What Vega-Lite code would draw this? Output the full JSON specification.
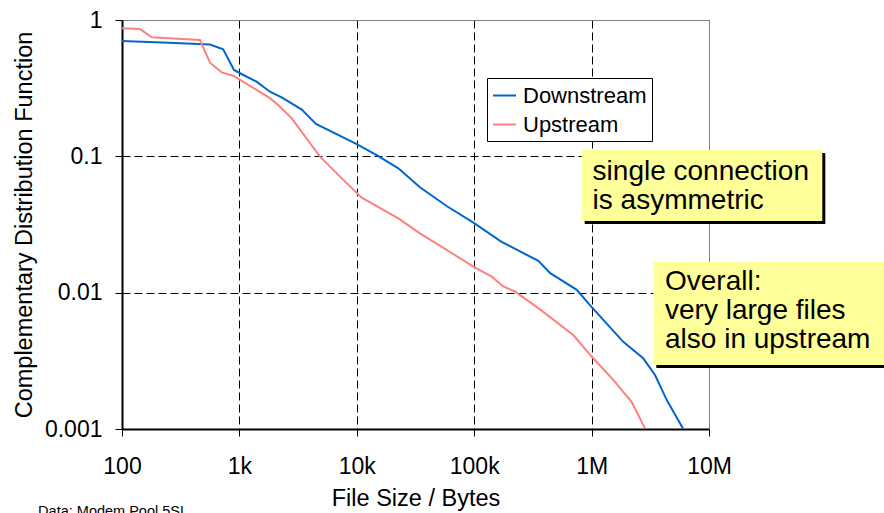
{
  "$schema": "https://vega.github.io/schema/vega-lite/v6.json",
  "width": 587,
  "height": 409,
  "autosize": {"type": "none"},
  "padding": {"left": 122, "top": 20, "right": 175, "bottom": 84},
  "background": "white",
  "config": {
    "font": "Liberation Sans",
    "view": {"stroke": "#808080", "strokeWidth": 1}
  },
  "datasets": {
    "curves": [
      {"size": 100, "ccdf": 0.70, "direction": "Downstream"},
      {"size": 250, "ccdf": 0.68, "direction": "Downstream"},
      {"size": 562, "ccdf": 0.66, "direction": "Downstream"},
      {"size": 727, "ccdf": 0.61, "direction": "Downstream"},
      {"size": 900, "ccdf": 0.43, "direction": "Downstream"},
      {"size": 1050, "ccdf": 0.40, "direction": "Downstream"},
      {"size": 1400, "ccdf": 0.353, "direction": "Downstream"},
      {"size": 1820, "ccdf": 0.298, "direction": "Downstream"},
      {"size": 2290, "ccdf": 0.271, "direction": "Downstream"},
      {"size": 3400, "ccdf": 0.220, "direction": "Downstream"},
      {"size": 4490, "ccdf": 0.173, "direction": "Downstream"},
      {"size": 9980, "ccdf": 0.123, "direction": "Downstream"},
      {"size": 14760, "ccdf": 0.102, "direction": "Downstream"},
      {"size": 22600, "ccdf": 0.0817, "direction": "Downstream"},
      {"size": 34500, "ccdf": 0.0593, "direction": "Downstream"},
      {"size": 58200, "ccdf": 0.0432, "direction": "Downstream"},
      {"size": 98400, "ccdf": 0.0326, "direction": "Downstream"},
      {"size": 171000, "ccdf": 0.0236, "direction": "Downstream"},
      {"size": 352000, "ccdf": 0.0171, "direction": "Downstream"},
      {"size": 444000, "ccdf": 0.0139, "direction": "Downstream"},
      {"size": 748000, "ccdf": 0.0105, "direction": "Downstream"},
      {"size": 968000, "ccdf": 0.0081, "direction": "Downstream"},
      {"size": 1860000, "ccdf": 0.00436, "direction": "Downstream"},
      {"size": 2750000, "ccdf": 0.0033, "direction": "Downstream"},
      {"size": 3470000, "ccdf": 0.00249, "direction": "Downstream"},
      {"size": 4370000, "ccdf": 0.00163, "direction": "Downstream"},
      {"size": 6000000, "ccdf": 0.00101, "direction": "Downstream"},
      {"size": 100, "ccdf": 0.869, "direction": "Upstream"},
      {"size": 142, "ccdf": 0.86, "direction": "Upstream"},
      {"size": 179, "ccdf": 0.747, "direction": "Upstream"},
      {"size": 461, "ccdf": 0.713, "direction": "Upstream"},
      {"size": 562, "ccdf": 0.486, "direction": "Upstream"},
      {"size": 706, "ccdf": 0.413, "direction": "Upstream"},
      {"size": 887, "ccdf": 0.39, "direction": "Upstream"},
      {"size": 1400, "ccdf": 0.307, "direction": "Upstream"},
      {"size": 1820, "ccdf": 0.267, "direction": "Upstream"},
      {"size": 2220, "ccdf": 0.231, "direction": "Upstream"},
      {"size": 2790, "ccdf": 0.19, "direction": "Upstream"},
      {"size": 4860, "ccdf": 0.0994, "direction": "Upstream"},
      {"size": 7200, "ccdf": 0.071, "direction": "Upstream"},
      {"size": 11000, "ccdf": 0.0497, "direction": "Upstream"},
      {"size": 22600, "ccdf": 0.0351, "direction": "Upstream"},
      {"size": 34500, "ccdf": 0.0272, "direction": "Upstream"},
      {"size": 58200, "ccdf": 0.0206, "direction": "Upstream"},
      {"size": 98400, "ccdf": 0.0155, "direction": "Upstream"},
      {"size": 141000, "ccdf": 0.0131, "direction": "Upstream"},
      {"size": 177000, "ccdf": 0.0111, "direction": "Upstream"},
      {"size": 222000, "ccdf": 0.0102, "direction": "Upstream"},
      {"size": 352000, "ccdf": 0.0077, "direction": "Upstream"},
      {"size": 698000, "ccdf": 0.00489, "direction": "Upstream"},
      {"size": 1000000, "ccdf": 0.0034, "direction": "Upstream"},
      {"size": 1530000, "ccdf": 0.00229, "direction": "Upstream"},
      {"size": 2190000, "ccdf": 0.00158, "direction": "Upstream"},
      {"size": 2850000, "ccdf": 0.00101, "direction": "Upstream"}
    ],
    "notes": [
      {"x1": 823600, "x2": 92300000, "y1": 0.1113, "y2": 0.03354, "tx": 1020000, "ty": 0.0671, "label": "single connection\nis asymmetric"},
      {"x1": 3355000, "x2": 1000000000, "y1": 0.01687, "y2": 0.002946, "tx": 4220000, "ty": 0.01046, "label": "Overall:\nvery large files\nalso in upstream"}
    ],
    "source": [
      {"x": 19.3, "y": 0.000232, "label": "Data: Modem Pool 5SL"}
    ]
  },
  "layer": [
    {
      "data": {"name": "curves"},
      "mark": {"type": "line", "strokeWidth": 2},
      "encoding": {
        "x": {
          "field": "size", "type": "quantitative",
          "title": "File Size / Bytes",
          "scale": {"type": "log", "domain": [100, 10000000], "nice": false},
          "axis": {
            "values": [100, 1000, 10000, 100000, 1000000, 10000000],
            "labelExpr": "datum.value >= 1000000 ? format(datum.value/1000000,'d') + 'M' : datum.value >= 1000 ? format(datum.value/1000,'d') + 'k' : format(datum.value,'d')",
            "domainColor": "black", "domainWidth": 2,
            "tickColor": "black", "tickSize": 7, "tickWidth": 1,
            "labelFontSize": 23, "labelColor": "black", "labelPadding": 19,
            "labelFlush": false, "labelOverlap": false,
            "titleFontSize": 23.5, "titleFontWeight": "normal", "titleColor": "black",
            "titleBaseline": "alphabetic", "titleY": 76,
            "grid": true, "gridWidth": 1,
            "gridColor": {"condition": {"test": "datum.value >= 10000000", "value": "#808080"}, "value": "black"},
            "gridDash": {"condition": {"test": "datum.value >= 10000000", "value": []}, "value": [8, 4]}
          }
        },
        "y": {
          "field": "ccdf", "type": "quantitative",
          "title": "Complementary Distribution Function",
          "scale": {"type": "log", "domain": [0.001, 1], "nice": false},
          "axis": {
            "values": [0.001, 0.01, 0.1, 1],
            "format": "~g",
            "domainColor": "black", "domainWidth": 2,
            "tickColor": "black", "tickSize": 7, "tickWidth": 1,
            "labelFontSize": 23, "labelColor": "black", "labelPadding": 13,
            "labelFlush": false, "labelOverlap": false,
            "titleFontSize": 23.5, "titleFontWeight": "normal", "titleColor": "black",
            "titleBaseline": "alphabetic", "titleX": -91,
            "grid": true, "gridWidth": 1,
            "gridColor": {"condition": {"test": "datum.value >= 1", "value": "#808080"}, "value": "black"},
            "gridDash": {"condition": {"test": "datum.value >= 1", "value": []}, "value": [8, 4]}
          }
        },
        "color": {
          "field": "direction", "type": "nominal",
          "scale": {"domain": ["Downstream", "Upstream"], "range": ["#0066CC", "#FF8080"]},
          "legend": {
            "orient": "none", "legendX": 365, "legendY": 58, "title": null,
            "fillColor": "white", "strokeColor": "black", "padding": 5,
            "labelFontSize": 22, "labelColor": "black", "labelLimit": 0, "labelOffset": 6,
            "symbolType": "stroke", "symbolSize": 529, "symbolStrokeWidth": 2,
            "rowPadding": 5
          }
        }
      }
    },
    {
      "data": {"name": "notes"},
      "mark": {"type": "rect", "fill": "black", "xOffset": 3, "x2Offset": 3, "yOffset": 3, "y2Offset": 3},
      "encoding": {
        "x": {"field": "x1", "type": "quantitative", "title": "File Size / Bytes", "scale": {"type": "log", "domain": [100, 10000000], "nice": false}},
        "x2": {"field": "x2"},
        "y": {"field": "y1", "type": "quantitative", "title": "Complementary Distribution Function", "scale": {"type": "log", "domain": [0.001, 1], "nice": false}},
        "y2": {"field": "y2"}
      }
    },
    {
      "data": {"name": "notes"},
      "mark": {"type": "rect", "fill": "#FFFF99"},
      "encoding": {
        "x": {"field": "x1", "type": "quantitative", "title": "File Size / Bytes", "scale": {"type": "log", "domain": [100, 10000000], "nice": false}},
        "x2": {"field": "x2"},
        "y": {"field": "y1", "type": "quantitative", "title": "Complementary Distribution Function", "scale": {"type": "log", "domain": [0.001, 1], "nice": false}},
        "y2": {"field": "y2"}
      }
    },
    {
      "data": {"name": "notes"},
      "mark": {"type": "text", "align": "left", "baseline": "alphabetic", "fontSize": 28, "lineBreak": "\n", "lineHeight": 29, "color": "black"},
      "encoding": {
        "x": {"field": "tx", "type": "quantitative", "title": "File Size / Bytes", "scale": {"type": "log", "domain": [100, 10000000], "nice": false}},
        "y": {"field": "ty", "type": "quantitative", "title": "Complementary Distribution Function", "scale": {"type": "log", "domain": [0.001, 1], "nice": false}},
        "text": {"field": "label"}
      }
    },
    {
      "data": {"name": "source"},
      "mark": {"type": "text", "align": "left", "baseline": "alphabetic", "fontSize": 14.5, "color": "black"},
      "encoding": {
        "x": {"field": "x", "type": "quantitative", "title": "File Size / Bytes", "scale": {"type": "log", "domain": [100, 10000000], "nice": false}},
        "y": {"field": "y", "type": "quantitative", "title": "Complementary Distribution Function", "scale": {"type": "log", "domain": [0.001, 1], "nice": false}},
        "text": {"field": "label"}
      }
    }
  ]
}
